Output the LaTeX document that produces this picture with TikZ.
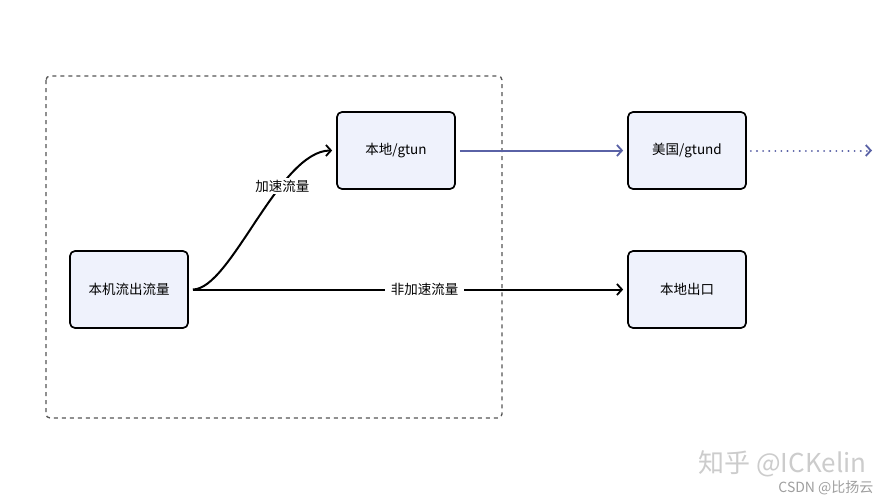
\documentclass[tikz,border=0pt]{standalone}
\usepackage{fontspec}
\setmainfont{Noto Sans CJK SC}
\usepackage{tikz}
\usetikzlibrary{arrows.meta,shapes}

\definecolor{boxfill}{HTML}{EFF2FC}
\definecolor{flowblue}{HTML}{5A62A6}
\definecolor{framegray}{HTML}{555555}
\tikzset{
  flowbox/.style={draw=black, fill=boxfill, rounded corners=5bp, line width=1.7bp,
    minimum width=118bp, minimum height=77bp, inner sep=0pt, font=\fontsize{13.5bp}{15bp}\selectfont},
  flowedge/.style={->, line width=2bp, shorten <=4bp, shorten >=4bp},
  flowlabel/.style={fill=white, inner xsep=6bp, inner ysep=2bp, font=\fontsize{13.5bp}{15bp}\selectfont},
}

\begin{document}
\begin{tikzpicture}[>={Straight Barb[length=5bp,width=11bp,line width=1.8bp]},line join=round]
  \useasboundingbox[fill=white] (0bp,0bp) rectangle (890bp,-504bp);
%%
  % Group: local host
  \draw [framegray, line width=1.3bp, dash pattern=on 4bp off 4bp, rounded corners=4bp]
    (46bp,-76bp) rectangle (502bp,-418bp);
  % Node: src
  \node [flowbox] (src) at (129bp,-289.5bp) {本机流出流量};
  % Node: gtun
  \node [flowbox] (gtun) at (396bp,-150.5bp) {本地/gtun};
  % Node: gtund
  \node [flowbox] (gtund) at (687bp,-150.5bp) {美国/gtund};
  % Node: exit
  \node [flowbox] (exit) at (687bp,-289.5bp) {本地出口};
  \coordinate (beyond) at (872bp,-150.5bp);
  % Edge: src -> gtun
  \draw [flowedge] (src.east) .. controls +(42bp,0bp) and +(-57bp,0bp) .. (gtun.west)
    node [flowlabel, pos=0.67] (fast) {加速流量};
  % Edge: src -> exit
  \draw [flowedge] (src.east) -- (exit.west)
    node [flowlabel, pos=0.538] (slow) {非加速流量};
  % Edge: gtun -> gtund
  \draw [flowedge, flowblue] (gtun.east) -- (gtund.west);
  % Edge: gtund -> beyond
  \draw [flowedge, flowblue, shorten >=0bp, line cap=round, dash pattern=on 0.1bp off 6bp] (gtund.east) -- (beyond);
  % Watermark
  \node [anchor=east, text=gray!40, font=\fontsize{26bp}{28bp}\selectfont] (mark) at (870bp,-464bp) {知乎 @ICKelin};
  \node [anchor=east, text=gray!75, font=\fontsize{14bp}{16bp}\selectfont] (csdn) at (877bp,-488bp) {CSDN @比扬云};
%
\end{tikzpicture}
\end{document}
